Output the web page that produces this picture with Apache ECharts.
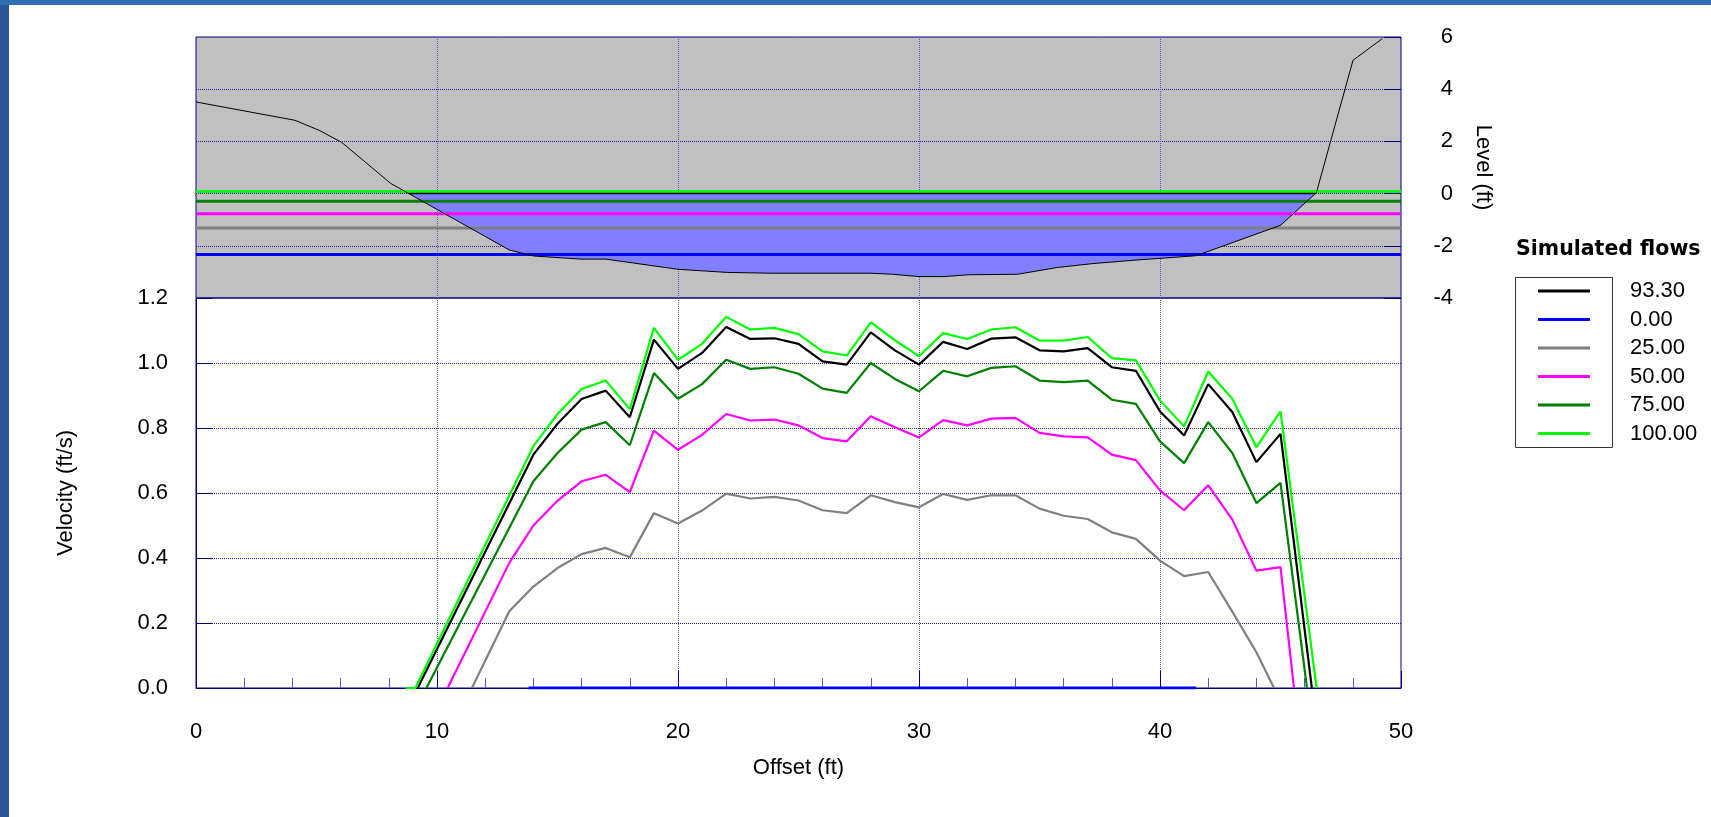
<!DOCTYPE html>
<html>
<head>
<meta charset="utf-8">
<script src="https://cdn.jsdelivr.net/npm/echarts@6/dist/echarts.min.js"></script>
<style>
html,body{margin:0;padding:0;background:#ffffff;}
#chart{width:1711px;height:817px;}
</style>
</head>
<body>
<div id="chart"></div>
<script>
// ---------------- data ----------------
const flowNames = ['93.30', '0.00', '25.00', '50.00', '75.00', '100.00'];
const waterLevels = [0.00, -2.33, -1.32, -0.77, -0.29, 0.08];

const groundOffset = [0, 4.1, 5.1, 6.05, 8.08, 13.0, 14.0, 15.97, 17.0, 20.0, 22.05, 23.9, 27.98, 28.9, 30.0, 31.03, 32.05, 34.09, 35.75, 37.23, 39.09, 41.5, 45.01, 46.49, 48.01, 49.23];
const groundLevel  = [3.51, 2.81, 2.43, 1.96, 0.39, -2.16, -2.39, -2.51, -2.51, -2.90, -3.02, -3.05, -3.05, -3.09, -3.18, -3.18, -3.11, -3.09, -2.83, -2.68, -2.54, -2.38, -1.21, 0.04, 5.11, 5.94];

const vel9330 = [[8.85,0],[9.2,0],[14,0.718],[15,0.813],[16,0.889],[17,0.915],[18,0.833],[19,1.072],[20,0.982],[21,1.031],[22,1.111],[23,1.074],[24,1.076],[25,1.059],[26,1.005],[27,0.995],[28,1.094],[29,1.039],[30,0.995],[31,1.065],[32,1.043],[33,1.075],[34,1.079],[35,1.039],[36,1.036],[37,1.046],[38,0.987],[39,0.976],[40,0.851],[41,0.777],[42,0.935],[43,0.849],[44,0.695],[45,0.782],[46.3,0]];
const vel000 = [[13.8,0],[41.5,0]];
const vel2500 = [[11.45,0],[13,0.236],[14,0.312],[15,0.369],[16,0.412],[17,0.431],[18,0.402],[19,0.538],[20,0.506],[21,0.546],[22,0.598],[23,0.583],[24,0.588],[25,0.577],[26,0.547],[27,0.538],[28,0.593],[29,0.572],[30,0.556],[31,0.597],[32,0.579],[33,0.593],[34,0.593],[35,0.552],[36,0.530],[37,0.520],[38,0.479],[39,0.459],[40,0.392],[41,0.344],[42,0.357],[43,0.235],[44,0.110],[44.73,0]];
const vel5000 = [[10.44,0],[13,0.385],[14,0.500],[15,0.576],[16,0.636],[17,0.656],[18,0.603],[19,0.792],[20,0.733],[21,0.779],[22,0.843],[23,0.823],[24,0.826],[25,0.808],[26,0.769],[27,0.759],[28,0.836],[29,0.802],[30,0.771],[31,0.824],[32,0.808],[33,0.829],[34,0.831],[35,0.785],[36,0.774],[37,0.771],[38,0.718],[39,0.701],[40,0.608],[41,0.547],[42,0.624],[43,0.518],[44,0.361],[45,0.372],[45.56,0]];
const vel7500 = [[9.56,0],[14,0.636],[15,0.723],[16,0.795],[17,0.818],[18,0.747],[19,0.969],[20,0.890],[21,0.935],[22,1.010],[23,0.982],[24,0.987],[25,0.967],[26,0.921],[27,0.908],[28,1.000],[29,0.951],[30,0.913],[31,0.976],[32,0.959],[33,0.985],[34,0.990],[35,0.946],[36,0.941],[37,0.946],[38,0.887],[39,0.874],[40,0.759],[41,0.692],[42,0.818],[43,0.723],[44,0.569],[45,0.631],[46.1,0]];
const vel10000 = [[8.7,0],[9.1,0],[14,0.744],[15,0.843],[16,0.920],[17,0.946],[18,0.858],[19,1.108],[20,1.010],[21,1.059],[22,1.142],[23,1.103],[24,1.108],[25,1.089],[26,1.036],[27,1.023],[28,1.125],[29,1.070],[30,1.021],[31,1.092],[32,1.074],[33,1.103],[34,1.110],[35,1.069],[36,1.069],[37,1.080],[38,1.015],[39,1.008],[40,0.885],[41,0.805],[42,0.974],[43,0.890],[44,0.741],[45,0.851],[46.5,0]];

const offsetTicks = [0, 10, 20, 30, 40, 50];
const velocityTicks = [0, 0.2, 0.4, 0.6, 0.8, 1.0, 1.2];
const levelTicks = [-4, -2, 0, 2, 4, 6];

// ---------------- build ----------------
const velocitySets = [vel9330, vel000, vel2500, vel5000, vel7500, vel10000];
const flowColors = ['#000000', '#0000FF', '#808080', '#FF00FF', '#008000', '#00FF00'];
const navy = '#000080';
const FONT = '"Liberation Sans", Arial, Helvetica, sans-serif';

const xMin = offsetTicks[0], xMax = offsetTicks[offsetTicks.length - 1];
const xInt = offsetTicks[1] - offsetTicks[0];

function crossings(wl) {
  const xs = [];
  for (let i = 0; i < groundOffset.length - 1; i++) {
    const a = groundLevel[i] - wl, b = groundLevel[i + 1] - wl;
    if ((a >= 0 && b < 0) || (a < 0 && b >= 0)) {
      const t = a / (a - b);
      xs.push(groundOffset[i] + t * (groundOffset[i + 1] - groundOffset[i]));
    }
  }
  return xs;
}
const wl0 = waterLevels[0];
const cr = crossings(wl0);
const edgeL = cr[0], edgeR = cr[cr.length - 1];
const fillPoly = [[edgeL, wl0]];
groundOffset.forEach((x, i) => { if (x > edgeL && x < edgeR) fillPoly.push([x, groundLevel[i]]); });
fillPoly.push([edgeR, wl0]);

const groundData = groundOffset.map((x, i) => [x, groundLevel[i]]);

const series = [];
// velocity lines (bottom panel)
velocitySets.forEach((d, i) => {
  series.push({
    name: flowNames[i], type: 'line', xAxisIndex: 1, yAxisIndex: 1,
    data: d, symbol: 'none', color: flowColors[i],
    lineStyle: { color: flowColors[i], width: i === 1 ? 3 : 2.2 },
    z: 3 + i, silent: true
  });
});
// water area for 93.30
series.push({
  name: flowNames[0], type: 'custom', xAxisIndex: 0, yAxisIndex: 0,
  data: fillPoly, clip: true, silent: true, z: 2,
  renderItem: function (params, api) {
    if (params.dataIndex !== 0) return null;
    const pts = fillPoly.map(p => api.coord(p));
    return { type: 'polygon', shape: { points: pts }, style: { fill: '#8080FF', stroke: null } };
  }
});
// water level lines (top panel)
waterLevels.forEach((wl, i) => {
  if (i === 0) return;
  series.push({
    name: flowNames[i], type: 'line', xAxisIndex: 0, yAxisIndex: 0,
    data: [[xMin, wl], [xMax, wl]], symbol: 'none', color: flowColors[i],
    lineStyle: { color: flowColors[i], width: 3 }, z: 4, silent: true
  });
});
// water surface for 93.30
series.push({
  name: flowNames[0], type: 'line', xAxisIndex: 0, yAxisIndex: 0,
  data: [[edgeL, wl0], [edgeR, wl0]], symbol: 'none', color: flowColors[0],
  lineStyle: { color: flowColors[0], width: 1.5 }, z: 5, silent: true
});
// ground profile
series.push({
  name: 'ground', type: 'line', xAxisIndex: 0, yAxisIndex: 0,
  data: groundData, symbol: 'none', color: '#000000',
  lineStyle: { color: '#000000', width: 1 }, z: 6, silent: true
});

const option = {
  animation: false,
  backgroundColor: '#ffffff',
  textStyle: { fontFamily: FONT },
  title: {
    text: 'Simulated flows', left: 1516, top: 239, padding: 0,
    textStyle: { fontFamily: '"DejaVu Sans", sans-serif', fontWeight: 'bold', fontSize: 20.5, color: '#000000' }
  },
  legend: {
    data: flowNames, orient: 'vertical', left: 1538, top: 280, padding: 0,
    icon: 'rect', itemWidth: 52, itemHeight: 3, itemGap: 6.5,
    itemStyle: { borderWidth: 0 },
    textStyle: { fontSize: 22, color: '#000000', lineHeight: 22, padding: [0, 0, 0, 35], fontFamily: FONT },
    selectedMode: false
  },
  graphic: [
    { type: 'rect', shape: { x: 0, y: 0, width: 9, height: 817 }, style: { fill: '#2b5596' }, z: 100 },
    { type: 'rect', shape: { x: 0, y: 0, width: 1711, height: 5 }, style: { fill: '#2f6db1' }, z: 100 },
    { type: 'rect', shape: { x: 1515.5, y: 277.5, width: 97, height: 170 }, style: { fill: null, stroke: '#333333', lineWidth: 1 }, z: 1 }
  ],
  grid: [
    { left: 196, right: 310, top: 37, height: 261, show: true, backgroundColor: '#C0C0C0', borderColor: navy, borderWidth: 1, containLabel: false, outerBoundsMode: 'none' },
    { left: 196, right: 310, top: 298, height: 390, show: true, backgroundColor: 'transparent', borderColor: navy, borderWidth: 1, containLabel: false, outerBoundsMode: 'none' }
  ],
  xAxis: [
    {
      gridIndex: 0, type: 'value', min: xMin, max: xMax, interval: xInt,
      axisLine: { show: false, onZero: false }, axisTick: { show: false }, axisLabel: { show: false },
      splitLine: { show: true, showMinLine: false, showMaxLine: false, lineStyle: { color: '#5a5ab8', type: 'dotted', width: 1 } }
    },
    {
      gridIndex: 1, type: 'value', min: xMin, max: xMax, interval: xInt,
      axisLine: { show: true, onZero: false, lineStyle: { color: navy, width: 1 } },
      axisTick: { show: true, inside: true, length: 17, lineStyle: { color: navy } },
      minorTick: { show: true, splitNumber: 5, length: 10, lineStyle: { color: '#5a5ab0' } },
      axisLabel: { fontSize: 22, color: '#000000', margin: 33, fontFamily: FONT },
      splitLine: { show: true, showMinLine: false, showMaxLine: false, lineStyle: { color: '#5a5ab8', type: 'dotted', width: 1 } },
      name: 'Offset (ft)', nameLocation: 'middle', nameGap: 69,
      nameTextStyle: { fontSize: 22, color: '#000000', fontFamily: FONT }
    }
  ],
  yAxis: [
    {
      gridIndex: 0, type: 'value', position: 'right',
      min: levelTicks[0], max: levelTicks[levelTicks.length - 1], interval: levelTicks[1] - levelTicks[0],
      axisLine: { show: false, onZero: false },
      axisTick: { show: true, inside: true, length: 17, lineStyle: { color: navy } },
      axisLabel: { fontSize: 22, color: '#000000', align: 'right', margin: 52, padding: [8, 0, 0, 0], fontFamily: FONT, formatter: v => String(Math.round(v)) },
      splitLine: { show: true, showMinLine: false, showMaxLine: false, lineStyle: { color: '#1c1c9c', type: 'dotted', width: 1 } },
      name: 'Level (ft)', nameLocation: 'middle', nameRotate: -90, nameGap: 71,
      nameTextStyle: { fontSize: 22, color: '#000000', fontFamily: FONT }
    },
    {
      gridIndex: 1, type: 'value', position: 'left',
      min: velocityTicks[0], max: velocityTicks[velocityTicks.length - 1], interval: velocityTicks[1] - velocityTicks[0],
      axisLine: { show: true, onZero: false, lineStyle: { color: navy, width: 1 } },
      axisTick: { show: true, inside: true, length: 16, lineStyle: { color: navy } },
      axisLabel: { fontSize: 22, color: '#000000', margin: 28, padding: [8, 0, 0, 0], fontFamily: FONT, formatter: v => v.toFixed(1) },
      splitLine: { show: true, showMinLine: false, showMaxLine: false, lineStyle: { color: '#1c1c9c', type: 'dotted', width: 1 } },
      name: 'Velocity (ft/s)', nameLocation: 'middle', nameRotate: 90, nameGap: 119,
      nameTextStyle: { fontSize: 22, color: '#000000', fontFamily: FONT }
    }
  ],
  series: series
};

const chart = echarts.init(document.getElementById('chart'), null, { renderer: 'canvas' });
chart.setOption(option);
</script>
</body>
</html>
